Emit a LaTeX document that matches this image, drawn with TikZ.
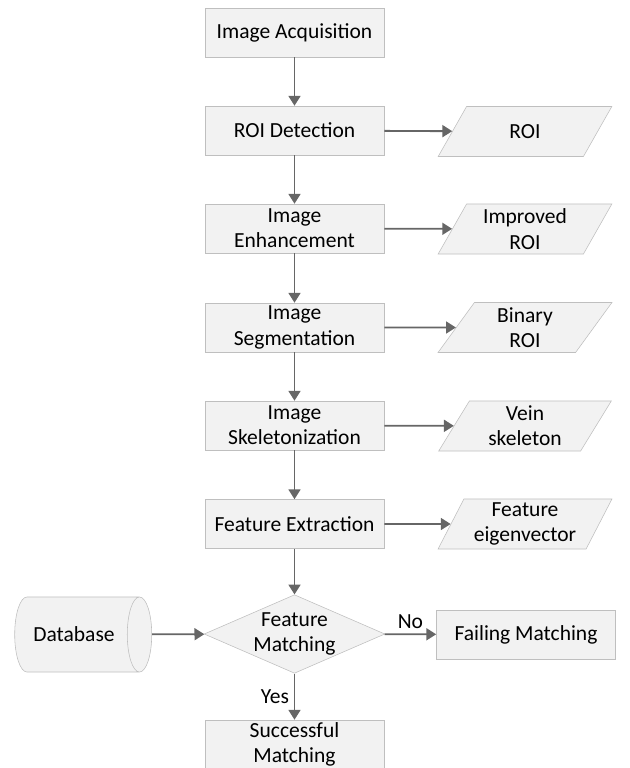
\documentclass[tikz,border=0pt]{standalone}
\usepackage{fontspec}
\setmainfont{Carlito}
\usepackage{tikz}
\usetikzlibrary{shapes.geometric,arrows.meta}

\tikzset{
	stepbox/.style={draw=black!25, fill=black!5, minimum width=4.475cm, minimum height=1.225cm, align=center, inner sep=1pt},
	databox/.style={trapezium, trapezium left angle=64, trapezium right angle=116, trapezium stretches, draw=black!25, fill=black!5, minimum width=4.35cm, minimum height=1.25cm, align=center, inner sep=1pt},
	decisionbox/.style={diamond, aspect=2.3, draw=black!25, fill=black!5, minimum width=4.45cm, minimum height=1.95cm, align=center, inner sep=0pt},
	storebox/.style={cylinder, shape aspect=1, draw=black!25, fill=black!5, minimum width=1.875cm, minimum height=3.425cm},
	flow/.style={draw=black!60, line width=1.3pt, -{Triangle[length=7pt, width=8.5pt]}}
}

\begin{document}
\begin{tikzpicture}[x=0.025cm, y=-0.025cm, font=\fontsize{15.3}{18}\selectfont]
				\useasboundingbox (0,0) rectangle (630,768);
				
				% Steps
				\node[stepbox] (acq) at (294.5, 32.5) {Image Acquisition};
				\node[stepbox] (roi) at (294.5, 130.5) {ROI Detection};
				\node[stepbox] (enh) at (294.5, 228.5) {Image\\Enhancement};
				\node[stepbox] (seg) at (294.5, 327.5) {Image\\Segmentation};
				\node[stepbox] (skel) at (294.5, 425.5) {Image\\Skeletonization};
				\node[stepbox] (feat) at (294.5, 524) {Feature Extraction};
				\node[decisionbox] (match) at (294.5, 634) {Feature\\Matching};
				\node[stepbox] (succ) at (294.5, 744.5) {Successful\\Matching};
				
				% Outputs
				\node[databox] (roiout) at (525, 131.5) {ROI};
				\node[databox] (enhout) at (525, 229) {Improved\\ROI};
				\node[databox] (segout) at (525, 327.5) {Binary\\ROI};
				\node[databox] (skelout) at (525, 426) {Vein\\skeleton};
				\node[databox] (featout) at (525, 524) {Feature\\eigenvector};
				
				% Database and failure
				\node[storebox] (db) at (74, 634.5) {Database};
				\node[stepbox] (fail) at (526, 634.5) {Failing Matching};
				
				% Main flow
				\draw[flow] (acq) -- (roi);
				\draw[flow] (roi) -- (enh);
				\draw[flow] (enh) -- (seg);
				\draw[flow] (seg) -- (skel);
				\draw[flow] (skel) -- (feat);
				\draw[flow] (feat) -- (match);
				\draw[flow] (match) -- node[left] {Yes} (succ);
				\draw[flow] (match) -- node[above] {No} (fail);
				\draw[flow] (db) -- (match);
				
				% Side outputs
				\draw[flow] (roi) -- (roiout);
				\draw[flow] (enh) -- (enhout);
				\draw[flow] (seg) -- (segout);
				\draw[flow] (skel) -- (skelout);
				\draw[flow] (feat) -- (featout);
			\end{tikzpicture}
\end{document}
